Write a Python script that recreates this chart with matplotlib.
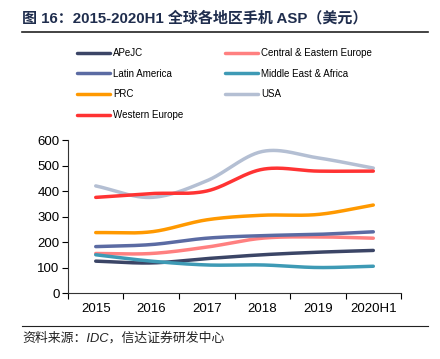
import numpy as np
import matplotlib.pyplot as plt

plt.rcParams['font.family'] = ['Liberation Sans', 'Noto Sans CJK SC']

years = ["2015", "2016", "2017", "2018", "2019", "2020H1"]
series_names = ["APeJC", "Central & Eastern Europe", "Latin America",
                "Middle East & Africa", "PRC", "USA", "Western Europe"]
apejc = [125, 118, 135, 150, 160, 167]
cee = [155, 155, 180, 215, 220, 215]
latam = [182, 190, 215, 225, 230, 240]
mea = [150, 125, 110, 110, 100, 105]
prc = [237, 240, 287, 305, 308, 345]
usa = [420, 375, 440, 555, 530, 490]
weur = [375, 390, 400, 485, 478, 478]
values = [apejc, cee, latam, mea, prc, usa, weur]
colors = ["#3b4566", "#ff8080", "#5b6ba3", "#3e9ab5", "#ff9900", "#b4bfd3", "#ff3333"]


def smooth(y, n=30):
    # catmull-rom curve through the points, similar to excel's smoothed lines
    y = np.asarray(y, dtype=float)
    p = np.concatenate([[2 * y[0] - y[1]], y, [2 * y[-1] - y[-2]]])
    xs, ys = [], []
    for i in range(len(y) - 1):
        t = np.linspace(0, 1, n, endpoint=False)
        p0, p1, p2, p3 = p[i], p[i + 1], p[i + 2], p[i + 3]
        yy = 0.5 * ((2 * p1) + (-p0 + p2) * t + (2 * p0 - 5 * p1 + 4 * p2 - p3) * t ** 2
                    + (-p0 + 3 * p1 - 3 * p2 + p3) * t ** 3)
        xs.append(i + t)
        ys.append(yy)
    xs.append([len(y) - 1])
    ys.append([y[-1]])
    return np.concatenate(xs), np.concatenate(ys)


fig = plt.figure(figsize=(4.4, 3.59), dpi=100)
ax = fig.add_axes([0.1545, 0.1838, 0.757, 0.4262])

lines = {}
for name, vals, c in zip(series_names, values, colors):
    sx, sy = smooth(vals)
    ln, = ax.plot(sx, sy, color=c, lw=2.5, solid_capstyle='round', label=name)
    lines[name] = ln

ax.set_xlim(-0.5, 5.5)
ax.set_ylim(0, 600)
ax.set_yticks(range(0, 601, 100))
ax.set_xticks(np.arange(-0.5, 6, 1))
ax.set_xticklabels([])
ax.set_xticks(range(6), minor=True)
ax.set_xticklabels(years, minor=True)
ax.tick_params(axis='x', which='minor', length=0, pad=7, labelsize=9.5)
ax.tick_params(axis='x', which='major', length=4, width=0.8, direction='out')
ax.tick_params(axis='y', length=4, width=0.8, labelsize=9.5, pad=2)
for s in ['top', 'right']:
    ax.spines[s].set_visible(False)
for s in ['left', 'bottom']:
    ax.spines[s].set_color('#333333')
    ax.spines[s].set_linewidth(0.8)

order = ["APeJC", "Latin America", "PRC", "Western Europe",
         "Central & Eastern Europe", "Middle East & Africa", "USA"]
fig.legend([lines[k] for k in order], order, ncol=2, loc='upper left',
           bbox_to_anchor=(0.175, 0.866), frameon=False, fontsize=7,
           handlelength=3.4, handletextpad=0.3, labelspacing=1.1,
           columnspacing=4.3, borderpad=0, borderaxespad=0)

fig.text(0.05, 0.948, "图 16：2015-2020H1 全球各地区手机 ASP（美元）",
         fontsize=10.8, fontweight='bold', color='#1f2d4d', va='center')
fig.add_artist(plt.Line2D([0.05, 0.973], [0.912, 0.912], color='#222222', lw=1.2))
fig.add_artist(plt.Line2D([0.05, 0.973], [0.092, 0.092], color='#222222', lw=0.8))
fig.text(0.05, 0.059, "资料来源：IDC，信达证券研发中心", fontsize=9.3,
         style='italic', color='#222222', va='center')

fig.savefig("out.png", dpi=100)
